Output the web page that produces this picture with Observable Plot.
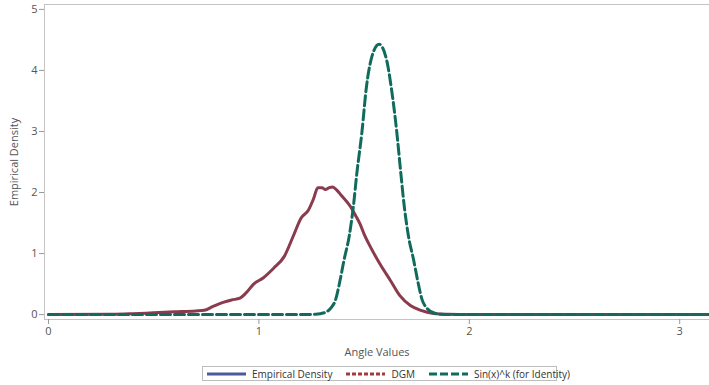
<!DOCTYPE html>
<html>
<head>
<meta charset="utf-8">
<script src="https://cdn.jsdelivr.net/npm/d3@7"></script>
<script src="https://cdn.jsdelivr.net/npm/@observablehq/plot@0.6"></script>
<style>
  html, body { margin: 0; padding: 0; background: #fff; }
  body { width: 709px; height: 385px; overflow: hidden; font-family: "Open Sans", "DejaVu Sans", sans-serif; }
  #legend { position: absolute; left: 202px; top: 366px; width: 353px; height: 13px; border: 1px solid #bdbdbd;
            display: flex; align-items: center; font-size: 10px; color: #333; box-sizing: content-box; }
  #legend .item { display: flex; align-items: center; white-space: nowrap; }
  #legend svg { margin: 0 6px 0 4px; }
</style>
</head>
<body>
<div id="chart"></div>
<div id="legend"></div>
<script>
// Empirical density (drawn in the reference as a solid dark red line)
const empX = [0, 0.3, 0.4, 0.5, 0.6, 0.7, 0.74, 0.78, 0.83, 0.87, 0.91, 0.94, 0.975, 1.02, 1.07, 1.12, 1.165, 1.2, 1.235, 1.26, 1.28, 1.3, 1.316, 1.335, 1.35, 1.37, 1.39, 1.435, 1.46, 1.48, 1.5, 1.53, 1.577, 1.625, 1.67, 1.72, 1.77, 1.83, 1.9, 2.0, 3.1416];
const empY = [0, 0.005, 0.015, 0.03, 0.045, 0.06, 0.07, 0.13, 0.2, 0.24, 0.27, 0.36, 0.5, 0.6, 0.76, 0.95, 1.3, 1.58, 1.71, 1.9, 2.08, 2.08, 2.05, 2.08, 2.09, 2.04, 1.96, 1.77, 1.62, 1.49, 1.32, 1.11, 0.82, 0.56, 0.31, 0.15, 0.07, 0.02, 0.005, 0, 0];
// Sin(x)^k (for Identity) curve
const sinX = [0, 1.2, 1.27, 1.31, 1.34, 1.365, 1.385, 1.405, 1.43, 1.45, 1.465, 1.49, 1.51, 1.535, 1.571, 1.605, 1.63, 1.655, 1.675, 1.69, 1.71, 1.735, 1.755, 1.775, 1.8, 1.83, 1.87, 1.94, 3.1416];
const sinY = [0, 0, 0.005, 0.03, 0.1, 0.25, 0.55, 0.9, 1.3, 1.8, 2.3, 3.0, 3.7, 4.2, 4.43, 4.2, 3.7, 3.0, 2.3, 1.8, 1.3, 0.9, 0.55, 0.25, 0.1, 0.03, 0.005, 0, 0];
const xTicks = [0, 1, 2, 3];
const yTicks = [0, 1, 2, 3, 4, 5];
const seriesNames = ["Empirical Density", "DGM", "Sin(x)^k (for Identity)"];
const seriesColors = ["#4a5a9c", "#a23b3b", "#116b5c"];
const empColor = "#8a3b4d";

const emp = empX.map((x, i) => ({x, y: empY[i]}));
const sin = sinX.map((x, i) => ({x, y: sinY[i]}));

const chart = Plot.plot({
  width: 709,
  height: 360,
  marginTop: 4,
  marginLeft: 44,
  marginRight: 0,
  marginBottom: 41,
  style: {fontFamily: "'Open Sans', sans-serif", fontSize: "11px", color: "#555", background: "#fff"},
  x: {domain: [-0.019, 3.1416]},
  y: {domain: [-0.08, 5.08]},
  marks: [
    Plot.frame({stroke: "#c4c4c4"}),
    Plot.axisX({ticks: xTicks, tickFormat: d3.format("d"), tickSize: 5, tickPadding: 3, stroke: "#999", fill: "#555",
      label: "Angle Values", labelAnchor: "center", labelArrow: "none", labelOffset: 36}),
    Plot.axisY({ticks: yTicks, tickFormat: d3.format("d"), tickSize: 5, tickPadding: 2, stroke: "#999", fill: "#555",
      label: "Empirical Density", labelAnchor: "center", labelArrow: "none", labelOffset: 34}),
    Plot.line(emp, {x: "x", y: "y", stroke: empColor, strokeWidth: 3, curve: "monotone-x"}),
    Plot.line(sin, {x: "x", y: "y", stroke: seriesColors[2], strokeWidth: 3, strokeDasharray: "10,4", curve: "monotone-x"})
  ]
});
document.getElementById("chart").appendChild(chart);

// Legend
const legend = document.getElementById("legend");
const dashes = ["none", "4,2", "8,3"];
seriesNames.forEach((name, i) => {
  const item = document.createElement("div");
  item.className = "item";
  item.style.marginLeft = i === 0 ? "0px" : "10px";
  const ns = "http://www.w3.org/2000/svg";
  const s = document.createElementNS(ns, "svg");
  s.setAttribute("width", 39); s.setAttribute("height", 6);
  const l = document.createElementNS(ns, "line");
  l.setAttribute("x1", 0); l.setAttribute("x2", 39); l.setAttribute("y1", 3); l.setAttribute("y2", 3);
  l.setAttribute("stroke", seriesColors[i]); l.setAttribute("stroke-width", 3);
  if (dashes[i] !== "none") l.setAttribute("stroke-dasharray", dashes[i]);
  s.appendChild(l);
  item.appendChild(s);
  const t = document.createElement("span");
  t.textContent = name;
  item.appendChild(t);
  legend.appendChild(item);
});
</script>
</body>
</html>
